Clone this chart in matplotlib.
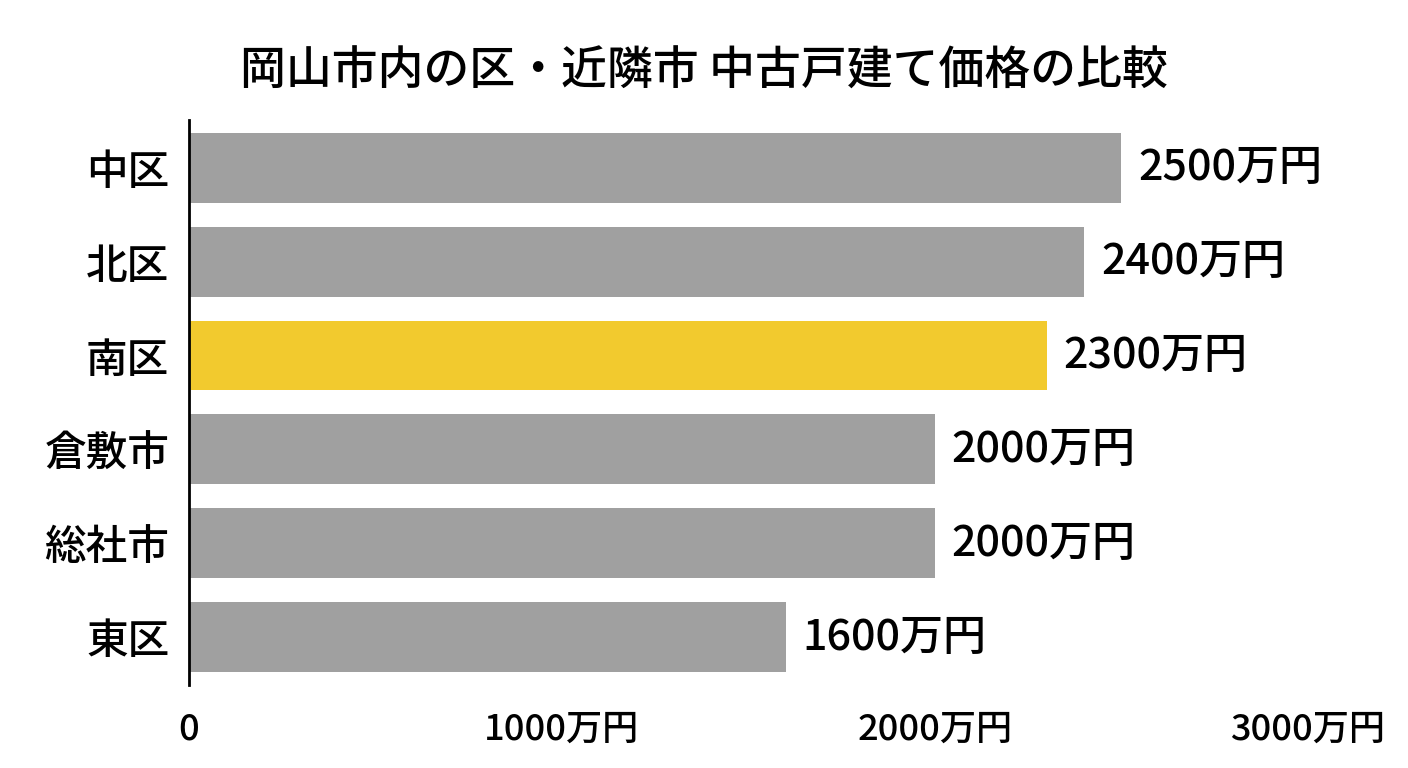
import numpy as np
import matplotlib.pyplot as plt

plt.rcParams['font.family'] = ['Noto Sans CJK JP', 'DejaVu Sans']

# data
areas = ['中区', '北区', '南区', '倉敷市', '総社市', '東区']
prices = [2500, 2400, 2300, 2000, 2000, 1600]
highlight = '南区'
ticks = [0, 1000, 2000, 3000]
tick_labels = ['0', '1000万円', '2000万円', '3000万円']
title = '岡山市内の区・近隣市 中古戸建て価格の比較'

gray = '#a0a0a0'
yellow = '#f2ca2e'
colors = [yellow if a == highlight else gray for a in areas]

fig = plt.figure(figsize=(14.08, 7.68), dpi=100)
ax = fig.add_axes([0.134, 0.108, 0.795, 0.736])

y = np.arange(len(areas))
ax.barh(y, prices, height=0.745, color=colors)

for yi, p in zip(y, prices):
    ax.text(p + 45, yi, f'{p}万円', va='center', ha='left',
            fontsize=31, fontweight='medium')

ax.set_ylim(len(areas) - 0.49, -0.51)
ax.set_xlim(0, 3000)
ax.set_yticks(y)
ax.set_yticklabels(areas, fontsize=30, fontweight='medium')
ax.set_xticks(ticks)
ax.set_xticklabels(tick_labels, fontsize=26, fontweight='medium')
ax.tick_params(axis='both', length=0)
ax.tick_params(axis='y', pad=14)
ax.tick_params(axis='x', pad=19)

for s in ['top', 'right', 'bottom']:
    ax.spines[s].set_visible(False)
ax.spines['left'].set_linewidth(2)
ax.spines['left'].set_color('black')

fig.suptitle(title, fontsize=33, fontweight='medium', y=0.938)

fig.savefig('out.png', dpi=100, facecolor='white')
